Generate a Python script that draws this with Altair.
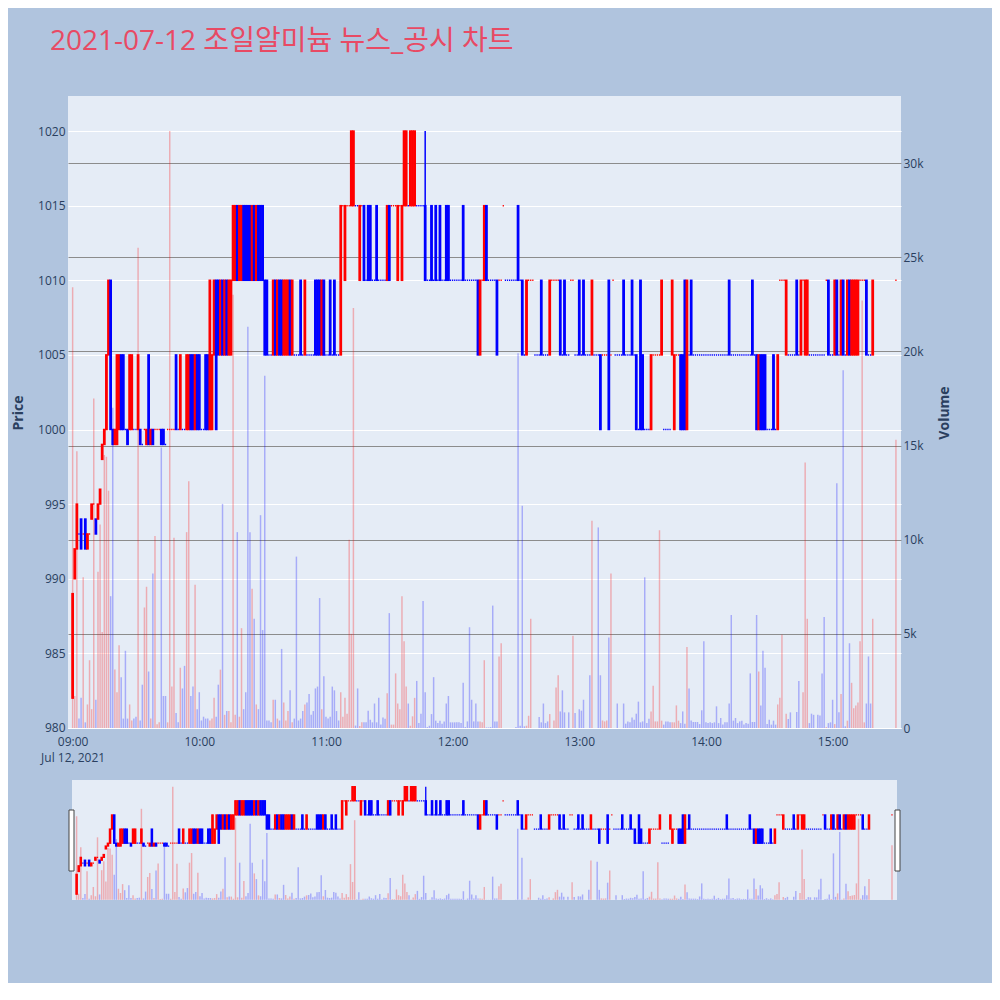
import altair as alt
import pandas as pd

title_text = "2021-07-12 조일알미늄 뉴스_공시 차트"

minutes = list(range(380)) + [390]

opens = [
    982, 990, 992, 993, 994, 993, 994, 992, 993, 994,
    995, 994, 994, 995, 998, 999, 1000, 1005, 1010, 1000,
    999, 999, 1000, 1005, 1005, 1000, 1000, 1000, 1000, 1000,
    1000, 1000, 1000, 999, 1000, 999, 1005, 999, 1000, 1000,
    1000, 1000, 1000, 1000, 999, 1000, 1000, 1000, 1000, 1005,
    1000, 1000, 1000, 1000, 1000, 1000, 1005, 1005, 1000, 1005,
    1005, 1000, 1000, 1005, 1005, 1000, 1000, 1005, 1010, 1010,
    1005, 1010, 1005, 1010, 1005, 1005, 1010, 1010, 1015, 1010,
    1010, 1015, 1015, 1015, 1015, 1010, 1015, 1010, 1015, 1015,
    1015, 1010, 1010, 1005, 1005, 1005, 1010, 1005, 1010, 1010,
    1005, 1005, 1005, 1010, 1005, 1005, 1005, 1005, 1010, 1005,
    1005, 1005, 1005, 1005, 1005, 1010, 1010, 1010, 1005, 1010,
    1005, 1005, 1010, 1005, 1010, 1005, 1005, 1005, 1015, 1010,
    1015, 1015, 1015, 1015, 1015, 1015, 1010, 1015, 1015, 1010,
    1015, 1015, 1010, 1010, 1015, 1010, 1010, 1010, 1010, 1010,
    1015, 1015, 1015, 1015, 1010, 1015, 1010, 1015, 1015, 1015,
    1015, 1015, 1015, 1015, 1015, 1015, 1015, 1015, 1010, 1010,
    1015, 1010, 1015, 1010, 1015, 1010, 1010, 1015, 1015, 1010,
    1010, 1010, 1010, 1010, 1010, 1015, 1010, 1010, 1010, 1010,
    1010, 1010, 1010, 1005, 1010, 1010, 1015, 1010, 1010, 1010,
    1010, 1010, 1010, 1010, 1015, 1010, 1010, 1010, 1010, 1010,
    1010, 1015, 1010, 1010, 1005, 1005, 1010, 1010, 1010, 1005,
    1005, 1005, 1010, 1005, 1005, 1005, 1005, 1010, 1010, 1010,
    1010, 1010, 1005, 1010, 1005, 1005, 1010, 1010, 1005, 1005,
    1010, 1005, 1010, 1005, 1005, 1005, 1005, 1005, 1005, 1005,
    1005, 1005, 1005, 1005, 1010, 1005, 1010, 1005, 1005, 1005,
    1005, 1010, 1005, 1005, 1005, 1010, 1005, 1005, 1000, 1010,
    1005, 1000, 1000, 1000, 1000, 1005, 1005, 1005, 1005, 1005,
    1000, 1000, 1000, 1000, 1005, 1000, 1005, 1005, 1005, 1005,
    1010, 1000, 1005, 1010, 1005, 1005, 1005, 1005, 1005, 1005,
    1005, 1005, 1005, 1005, 1005, 1005, 1005, 1005, 1005, 1005,
    1005, 1010, 1005, 1005, 1005, 1005, 1005, 1005, 1005, 1005,
    1005, 1005, 1010, 1005, 1005, 1000, 1005, 1005, 1005, 1000,
    1000, 1000, 1005, 1000, 1000, 1010, 1010, 1010, 1005, 1005,
    1005, 1005, 1005, 1010, 1005, 1005, 1010, 1005, 1005, 1005,
    1005, 1005, 1005, 1005, 1005, 1005, 1005, 1010, 1010, 1005,
    1005, 1005, 1010, 1005, 1005, 1010, 1005, 1005, 1010, 1005,
    1005, 1005, 1005, 1010, 1010, 1010, 1010, 1005, 1005, 1005,
    1010,
]

closes = [
    989, 992, 995, 993, 992, 993, 992, 993, 993, 995,
    995, 993, 995, 996, 999, 1000, 1005, 1010, 1000, 999,
    1000, 1005, 1005, 1000, 1000, 1000, 999, 1005, 1005, 1000,
    1000, 1005, 999, 999, 1000, 1000, 999, 1000, 999, 1000,
    1000, 1000, 999, 999, 999, 1000, 1000, 1000, 1000, 1000,
    1000, 1005, 1000, 1000, 1005, 1005, 1000, 1000, 1005, 1000,
    1000, 1000, 1000, 1000, 1000, 1010, 1005, 1010, 1000, 1005,
    1010, 1005, 1010, 1005, 1010, 1010, 1015, 1015, 1010, 1015,
    1015, 1010, 1010, 1010, 1010, 1015, 1010, 1015, 1010, 1010,
    1010, 1005, 1005, 1005, 1005, 1010, 1005, 1010, 1005, 1005,
    1010, 1010, 1010, 1005, 1010, 1005, 1005, 1005, 1005, 1005,
    1010, 1005, 1005, 1005, 1005, 1005, 1005, 1005, 1010, 1005,
    1005, 1005, 1005, 1005, 1005, 1005, 1005, 1015, 1015, 1015,
    1015, 1015, 1020, 1020, 1015, 1015, 1015, 1015, 1010, 1010,
    1010, 1010, 1010, 1010, 1010, 1010, 1010, 1010, 1010, 1015,
    1010, 1015, 1015, 1015, 1015, 1015, 1015, 1020, 1020, 1015,
    1020, 1020, 1020, 1015, 1015, 1015, 1015, 1010, 1010, 1010,
    1010, 1010, 1010, 1010, 1010, 1010, 1010, 1010, 1010, 1010,
    1010, 1010, 1010, 1010, 1010, 1010, 1010, 1010, 1010, 1010,
    1010, 1010, 1005, 1010, 1010, 1015, 1010, 1010, 1010, 1010,
    1010, 1005, 1010, 1010, 1015, 1010, 1010, 1010, 1010, 1010,
    1010, 1010, 1010, 1005, 1005, 1010, 1010, 1010, 1010, 1005,
    1005, 1005, 1005, 1005, 1005, 1005, 1010, 1010, 1010, 1010,
    1010, 1005, 1005, 1005, 1005, 1005, 1010, 1010, 1005, 1005,
    1005, 1005, 1005, 1005, 1005, 1005, 1010, 1005, 1005, 1005,
    1000, 1005, 1005, 1005, 1000, 1005, 1010, 1005, 1005, 1005,
    1005, 1005, 1005, 1005, 1005, 1005, 1005, 1000, 1000, 1000,
    1000, 1000, 1000, 1000, 1005, 1005, 1005, 1005, 1005, 1010,
    1000, 1000, 1000, 1000, 1010, 1005, 1005, 1005, 1000, 1000,
    1000, 1010, 1005, 1005, 1005, 1005, 1005, 1005, 1005, 1005,
    1005, 1005, 1005, 1005, 1005, 1005, 1005, 1005, 1005, 1005,
    1005, 1005, 1005, 1005, 1005, 1005, 1005, 1005, 1005, 1005,
    1005, 1005, 1005, 1005, 1000, 1005, 1000, 1000, 1000, 1000,
    1000, 1000, 1000, 1000, 1005, 1010, 1010, 1010, 1010, 1005,
    1005, 1005, 1005, 1005, 1005, 1010, 1010, 1010, 1010, 1005,
    1005, 1005, 1005, 1005, 1005, 1005, 1005, 1010, 1005, 1005,
    1005, 1010, 1005, 1005, 1010, 1005, 1005, 1010, 1005, 1010,
    1010, 1010, 1010, 1010, 1010, 1010, 1005, 1005, 1005, 1010,
    1010,
]

volumes = [
    23400, 1700, 14700, 500, 1600, 8000, 300, 1250, 3600, 1000,
    17500, 1500, 8300, 10800, 5100, 14500, 14400, 12600, 7000, 17000,
    3100, 1900, 4400, 2700, 500, 4100, 500, 1250, 400, 500,
    600, 25500, 400, 2300, 6400, 7500, 3000, 500, 8200, 10200,
    200, 300, 14900, 1700, 1700, 300, 31700, 2200, 10100, 800,
    300, 3200, 2100, 3300, 10400, 13100, 1700, 2200, 7600, 1000,
    1900, 400, 600, 500, 500, 400, 500, 1600, 600, 2300,
    3100, 11900, 700, 900, 900, 300, 23000, 700, 10400, 600,
    5300, 1000, 1900, 21300, 10400, 7400, 5800, 1250, 1000, 11300,
    5200, 18700, 400, 400, 300, 1500, 1500, 500, 400, 4200,
    1350, 400, 900, 2000, 300, 500, 9100, 400, 500, 900,
    1250, 1350, 1800, 700, 900, 2100, 2200, 6900, 1000, 2750,
    600, 500, 600, 2200, 2000, 900, 400, 1900, 600, 1600,
    760, 10000, 5000, 22300, 130, 2100, 100, 300, 300, 300,
    920, 440, 300, 1300, 300, 1600, 180, 560, 490, 1850,
    6100, 180, 180, 2900, 1300, 1000, 7000, 4600, 2200, 1300,
    120, 620, 1600, 2500, 260, 760, 6750, 1900, 50, 120,
    740, 2700, 390, 260, 390, 230, 350, 1300, 1700, 300,
    300, 300, 300, 300, 260, 2400, 50, 350, 5350, 1500,
    350, 1300, 350, 350, 300, 3600, 30, 30, 50, 6500,
    350, 350, 3800, 4500, 0, 0, 0, 0, 0, 0,
    50, 19900, 120, 11800, 90, 120, 650, 5800, 0, 0,
    0, 580, 300, 1300, 260, 350, 740, 0, 400, 2150,
    2800, 880, 2000, 830, 0, 830, 0, 4900, 800, 0,
    1000, 920, 1500, 0, 0, 2800, 11000, 0, 0, 10650,
    2800, 400, 350, 400, 4800, 8200, 0, 0, 1300, 0,
    0, 1300, 230, 350, 300, 560, 440, 760, 1400, 300,
    350, 8000, 260, 490, 880, 2250, 350, 350, 10500, 390,
    180, 350, 350, 300, 300, 300, 1200, 390, 260, 880,
    230, 4300, 2100, 400, 320, 320, 320, 210, 940, 4600,
    300, 260, 300, 260, 300, 1150, 260, 530, 180, 300,
    300, 1300, 6000, 390, 530, 260, 350, 390, 180, 260,
    230, 2900, 320, 320, 6000, 3000, 1200, 4100, 3200, 210,
    440, 180, 390, 180, 1250, 1600, 4950, 0, 760, 480,
    830, 0, 0, 850, 2500, 0, 1900, 14100, 5800, 260,
    760, 700, 0, 700, 670, 2900, 5900, 50, 260, 300,
    1500, 210, 13000, 830, 1800, 19000, 90, 390, 4500, 2400,
    1050, 1200, 1350, 4600, 22700, 300, 1300, 3800, 1300, 5800,
    15300,
]

wick_high = {167: 1020}

hour_ticks = [0, 60, 120, 180, 240, 300, 360]
price_ticks = [980, 985, 990, 995, 1000, 1005, 1010, 1015, 1020]
volume_ticks = [0, 5000, 10000, 15000, 20000, 25000, 30000]

assert len(opens) == len(closes) == len(volumes) == len(minutes)

# candle direction (plotly rule: equal open/close compares with previous close)
highs, lows, dirs = [], [], []
for i, (o, c) in enumerate(zip(opens, closes)):
    highs.append(wick_high.get(minutes[i], max(o, c)))
    lows.append(min(o, c))
    if c > o:
        d = "up"
    elif c < o:
        d = "down"
    else:
        pc = closes[i - 1] if i > 0 else o
        if c > pc:
            d = "up"
        elif c < pc:
            d = "down"
        else:
            d = dirs[-1] if dirs else "down"
    dirs.append(d)

df = pd.DataFrame({
    "m": minutes, "open": opens, "close": closes, "high": highs,
    "low": lows, "vol": volumes, "dir": dirs,
})

FONT = "Open Sans, Noto Sans CJK KR, sans-serif"
TXT = "#2a3f5f"
X_DOM = [-2.2, 392.4]
P_DOM = [979.93, 1022.35]
V_DOM = [-53, 33558]

up_dn = alt.Scale(domain=["up", "down"], range=["#ff0000", "#0000ff"])

xs = alt.Scale(domain=X_DOM, nice=False, zero=False)
ps = alt.Scale(domain=P_DOM, nice=False, zero=False)
vs = alt.Scale(domain=V_DOM, nice=False, zero=False)
xs_s = alt.Scale(domain=X_DOM, nice=False, zero=False, range=[4, 829])
ps_s = alt.Scale(domain=P_DOM, nice=False, zero=False, range=[804, 684])
vs_s = alt.Scale(domain=V_DOM, nice=False, zero=False, range=[804, 684])

x_axis = alt.Axis(
    values=hour_ticks,
    labelExpr="datum.value == 0 ? ['09:00', 'Jul 12, 2021'] : "
              "((9 + datum.value / 60) < 10 ? '0' : '') + (9 + datum.value / 60) + ':00'",
    grid=False, domain=False, ticks=False, labelPadding=7, labelFont=FONT,
    labelFontSize=12, labelColor=TXT, labelLineHeight=16, title=None,
    labelFlush=False, labelOverlap=False,
)
y_axis = alt.Axis(
    orient="left", values=price_ticks, format="d", grid=True, gridColor="white",
    gridWidth=1, domain=False, ticks=False, labelPadding=3, labelFont=FONT,
    labelFontSize=12, labelColor=TXT, title="Price", titleFont=FONT,
    titleFontSize=14, titleFontWeight="bold", titleColor=TXT, titlePadding=12,
)
v_axis = alt.Axis(
    orient="right", values=volume_ticks,
    labelExpr="datum.value == 0 ? '0' : (datum.value / 1000) + 'k'",
    grid=True,
    gridColor={"condition": {"test": "datum.value === 0", "value": "white"}, "value": "#8c8c8c"},
    gridWidth=1, domain=False, ticks=False, labelPadding=2, labelFont=FONT,
    labelFontSize=12, labelColor=TXT, title="Volume", titleFont=FONT,
    titleFontSize=14, titleFontWeight="bold", titleColor=TXT, titleAngle=270,
    titlePadding=28,
)

base = alt.Chart(df).transform_calculate(
    c0="datum.m - 0.3", c1="datum.m + 0.3", v0="datum.m - 0.35", v1="datum.m + 0.35"
)


def candles(xsc, psc, xax, yax, sw):
    wick = base.mark_rule(strokeWidth=sw).encode(
        x=alt.X("m:Q", scale=xsc, axis=xax),
        y=alt.Y("low:Q", scale=psc, axis=yax),
        y2="high:Q",
        color=alt.Color("dir:N", scale=up_dn, legend=None),
    )
    body = base.mark_rect(strokeWidth=sw).encode(
        x=alt.X("c0:Q", scale=xsc, axis=xax),
        x2="c1:Q",
        y=alt.Y("open:Q", scale=psc, axis=yax),
        y2="close:Q",
        fill=alt.Fill("dir:N", scale=up_dn, legend=None),
        stroke=alt.Stroke("dir:N", scale=up_dn, legend=None),
    )
    return alt.layer(wick, body)


def vol_bars(xsc, vsc, vax):
    return base.mark_rect(opacity=0.27).encode(
        x=alt.X("v0:Q", scale=xsc, axis=None),
        x2="v1:Q",
        y=alt.Y("vol:Q", scale=vsc, axis=vax),
        y2=alt.datum(0),
        fill=alt.Fill("dir:N", scale=up_dn, legend=None),
    )


one = alt.Chart(pd.DataFrame({"k": [0]}))
slider_bg = one.mark_rect(fill="#E5ECF6").encode(
    x=alt.value(4), x2=alt.value(829), y=alt.value(684), y2=alt.value(804)
)
handle_l = one.mark_rect(fill="white", stroke="#444444", strokeWidth=1).encode(
    x=alt.value(1), x2=alt.value(6), y=alt.value(714), y2=alt.value(775)
)
handle_r = one.mark_rect(fill="white", stroke="#444444", strokeWidth=1).encode(
    x=alt.value(827), x2=alt.value(832), y=alt.value(714), y2=alt.value(775)
)

main_price = candles(xs, ps, x_axis, y_axis, 1.5)
main_vol = vol_bars(xs, vs, v_axis)
slider_price = candles(xs_s, ps_s, None, None, 1.3)
slider_vol = vol_bars(xs_s, vs_s, None)

chart = alt.layer(
    main_price, main_vol, slider_bg, slider_price, slider_vol, handle_l, handle_r
).resolve_scale(
    x="independent", y="independent"
).properties(
    width=833,
    height=633,
    title=alt.Title(
        text=title_text, anchor="start", frame="group", dx=-18, offset=40,
        fontSize=28, font=FONT, color="#E84A64", fontWeight="normal",
    ),
    autosize=alt.AutoSizeParams(type="none"),
    padding={"left": 60, "top": 88, "right": 91, "bottom": 254},
).configure(
    background="#B0C4DE"
).configure_view(
    stroke=None, fill="#E5ECF6"
)

chart.save("out.html", embed_options={"renderer": "svg", "actions": False})
